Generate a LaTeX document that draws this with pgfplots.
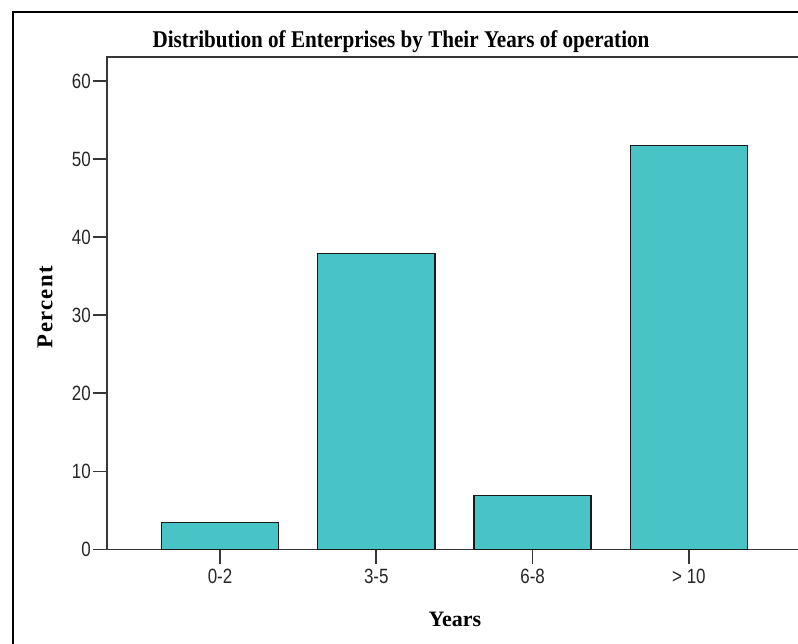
\documentclass[border=0pt]{standalone}
\usepackage{fontspec}
\usepackage{pgfplots}
\pgfplotsset{compat=1.18}
\newfontfamily\titlefont[FakeStretch=0.88]{Liberation Serif}
\newfontfamily\labfont{Liberation Serif}
\newfontfamily\pctfont[LetterSpace=6]{Liberation Serif}
\newfontfamily\tickfont[FakeStretch=0.82]{Liberation Sans}
\definecolor{barfill}{RGB}{72,196,199}
\definecolor{axisgray}{RGB}{55,55,55}
\begin{document}
\begin{tikzpicture}
\useasboundingbox (0,0) rectangle (598.5pt,-482.25pt);
\clip (0,0) rectangle (598.5pt,-482.25pt);
\draw[line width=2.2pt,black] (9.75pt,-9pt) rectangle (640pt,-520pt);
\node[anchor=base,font=\titlefont\bfseries\fontsize{18}{18}\selectfont] at (300.75pt,-35.25pt) {Distribution of Enterprises by Their Years of operation};
\begin{axis}[
  at={(80.25pt,-412.125pt)}, anchor=south west,
  scale only axis, width=519.75pt, height=369.375pt,
  xmin=-0.723, xmax=3.711, ymin=0, ymax=63.08,
  ybar, bar width=0.75,
  xtick={0,1,2,3}, xticklabels={0-2,3-5,6-8,{> 10}},
  ytick={0,10,20,30,40,50,60},
  tick align=outside, major tick length=10.5pt,
  xtick pos=lower, ytick pos=left,
  every tick/.style={axisgray, line width=1.3pt},
  axis line style={axisgray, line width=1.3pt},
  ticklabel style={font=\tickfont\fontsize{15.5}{15.5}\selectfont, text=black!85},
  /pgf/number format/assume math mode=true,
  yticklabel style={inner sep=1.5pt},
  xticklabel style={inner sep=2pt, yshift=-2pt},
  xlabel={Years}, ylabel={Percent},
  xlabel style={font=\labfont\bfseries\fontsize{16.5}{16.5}\selectfont, anchor=base, at={(axis description cs:0.502,-0.157)}},
  ylabel style={font=\pctfont\bfseries\fontsize{17}{17}\selectfont, anchor=center, rotate=0, at={(axis description cs:-0.0895,0.492)}},
]
\addplot[fill=barfill, draw=black!90, line width=1.1pt] coordinates {(0,3.45) (1,37.93) (2,6.90) (3,51.72)};
\end{axis}
\end{tikzpicture}
\end{document}
